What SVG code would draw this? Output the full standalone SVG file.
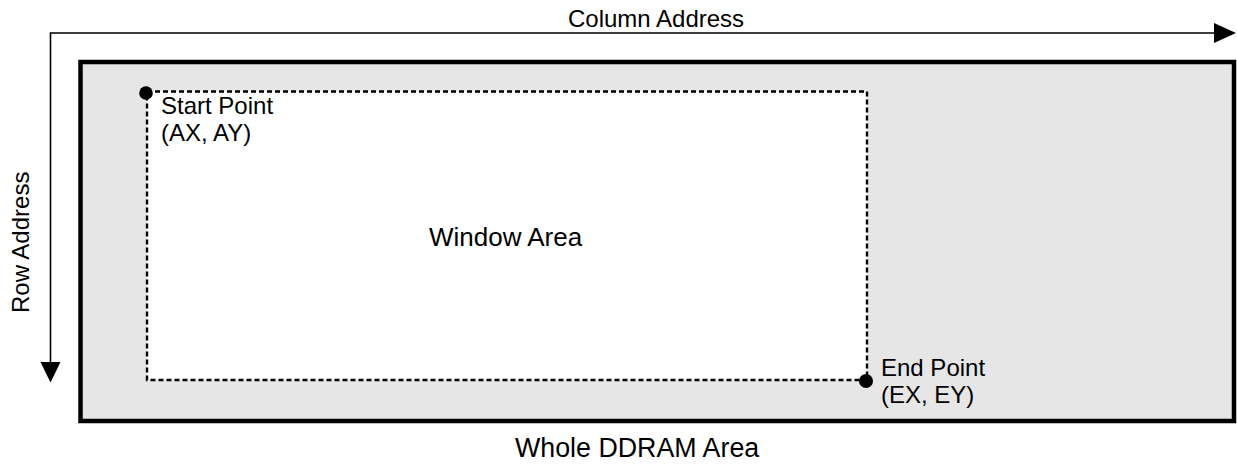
<svg xmlns="http://www.w3.org/2000/svg" width="1237" height="464" viewBox="0 0 1237 464">
<style>
.t{font-family:"Liberation Sans",Arial,sans-serif;fill:#000}
.s24{font-size:24px}
.s26{font-size:26px}
.axis{stroke:#000;stroke-width:1.6;fill:none}
.dot{fill:#000}
</style>
<rect width="1237" height="464" fill="#fff"/>
<g id="connectors">
<path class="axis" d="M50.5 33 H1215 M50.5 32.2 V363"/>
<polygon points="1214,23 1236,33 1214,43" fill="#000"/>
<polygon points="40.5,362 50.5,382.5 60.5,362" fill="#000"/>
</g>
<g id="ddram">
<rect x="80.5" y="62" width="1153.5" height="359" fill="#e6e6e6" stroke="#000" stroke-width="4.5"/>
<text class="t" font-size="26.8" x="515" y="457">Whole DDRAM Area</text>
</g>
<g id="window">
<rect x="147" y="91.5" width="720" height="288.5" fill="#fff" stroke="#000" stroke-width="2.4" stroke-dasharray="5,3"/>
<text class="t s26" x="429" y="246">Window Area</text>
</g>
<g id="start-point">
<circle class="dot" cx="146" cy="93" r="6.8"/>
<text class="t s24" x="161" y="114">Start Point</text>
<text class="t s24" x="161" y="141">(AX, AY)</text>
</g>
<g id="end-point">
<circle class="dot" cx="866" cy="381" r="7"/>
<text class="t s24" x="881" y="376">End Point</text>
<text class="t s24" x="881" y="403">(EX, EY)</text>
</g>
<g id="column-address">
<text class="t s24" x="568" y="27">Column Address</text>
</g>
<g id="row-address">
<text class="t s24" transform="translate(29 313) rotate(-90)">Row Address</text>
</g>
</svg>
